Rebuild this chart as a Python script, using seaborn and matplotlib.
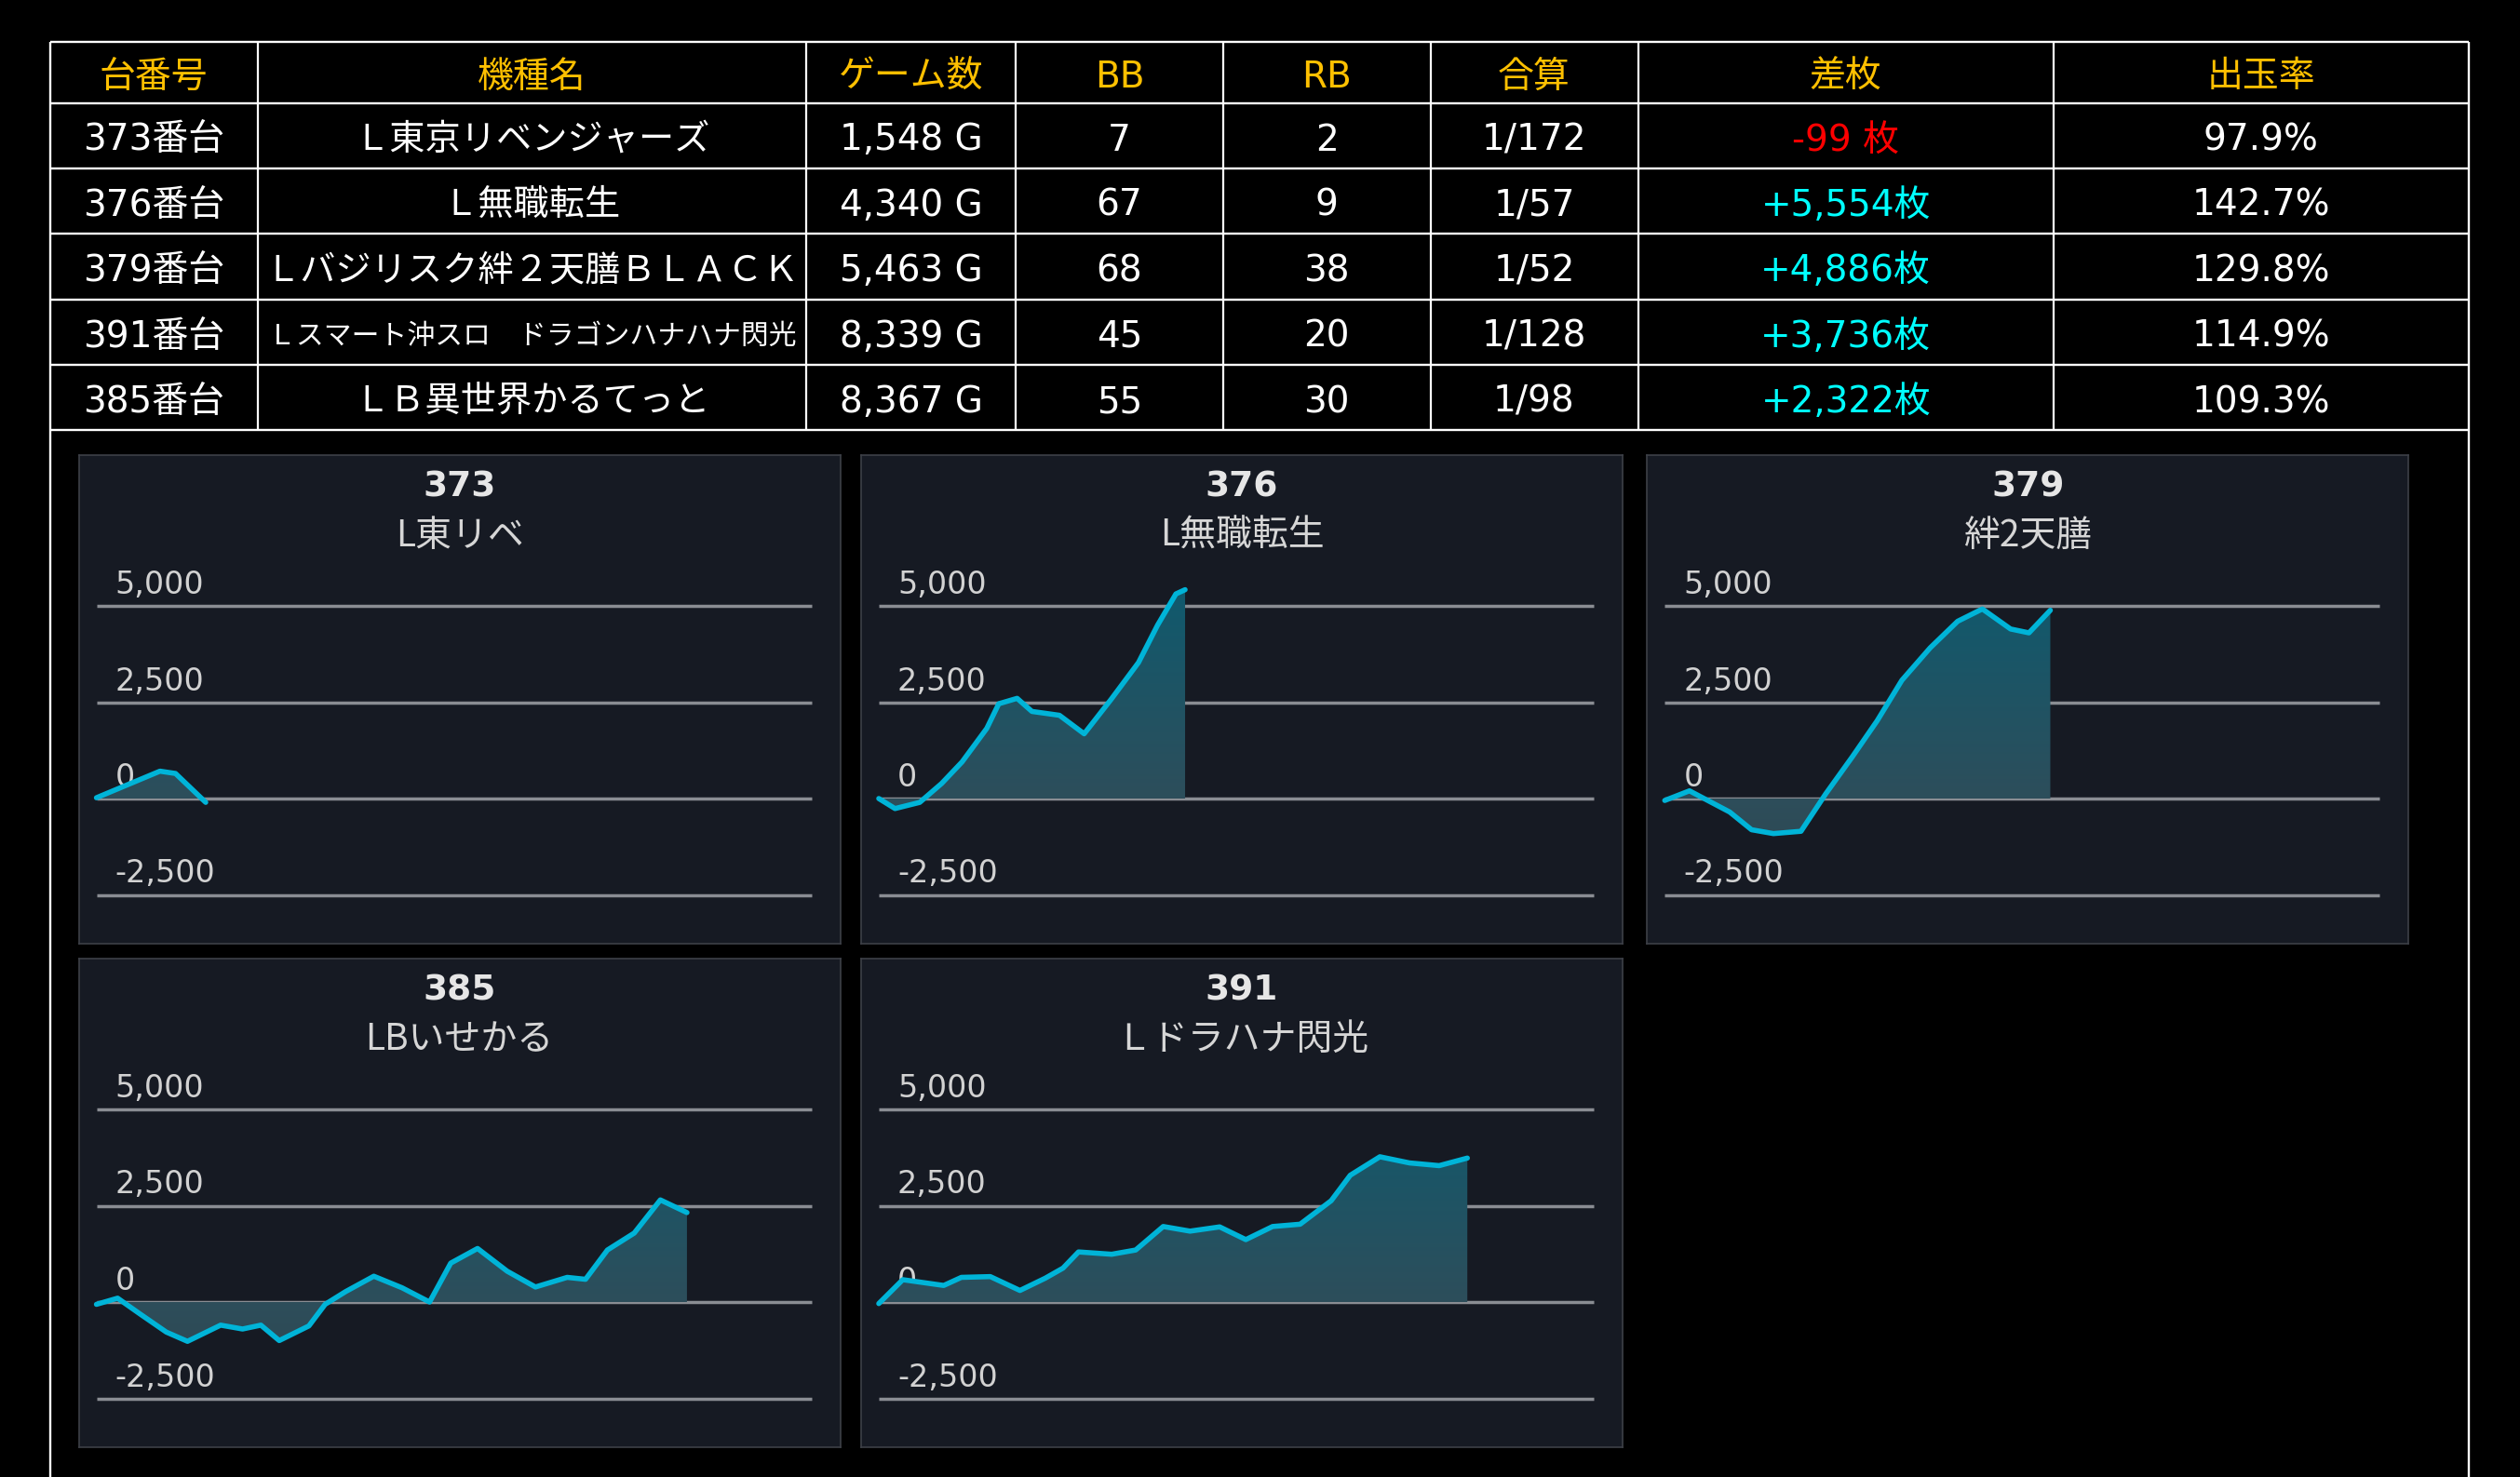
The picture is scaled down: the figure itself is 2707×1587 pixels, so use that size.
import numpy as np
import seaborn as sns
import matplotlib
matplotlib.use("Agg")
from matplotlib import pyplot as plt
from matplotlib.colors import LinearSegmentedColormap

# table data
dai_no = ["373番台", "376番台", "379番台", "391番台", "385番台"]
kishu = ["Ｌ東京リベンジャーズ", "Ｌ無職転生", "Ｌバジリスク絆２天膳ＢＬＡＣＫ",
         "Ｌスマート沖スロ　ドラゴンハナハナ閃光", "ＬＢ異世界かるてっと"]
games = [1548, 4340, 5463, 8339, 8367]
bb = [7, 67, 68, 45, 55]
rb = [2, 9, 38, 20, 30]
gassan = ["1/172", "1/57", "1/52", "1/128", "1/98"]
samai = [-99, 5554, 4886, 3736, 2322]
dedama = [97.9, 142.7, 129.8, 114.9, 109.3]
headers = ["台番号", "機種名", "ゲーム数", "BB", "RB", "合算", "差枚", "出玉率"]

# slump graph data (games, coins)
panel_no = ["373", "376", "379", "385", "391"]
panel_sub = ["L東リベ", "L無職転生", "絆2天膳", "LBいせかる", "Ｌドラハナ閃光"]
g373 = [0, 900, 1120, 1548]
v373 = [20, 710, 650, -99]
g376 = [0, 230, 580, 890, 1180, 1530, 1700, 1960, 2170, 2560, 2910, 3290, 3680, 3950, 4210, 4340]
v376 = [0, -260, -100, 390, 950, 1820, 2460, 2600, 2260, 2160, 1680, 2570, 3530, 4500, 5310, 5420]
g379 = [0, 350, 640, 920, 1230, 1540, 1930, 2280, 2660, 3010, 3360, 3760, 4150, 4500, 4900, 5160, 5463]
v379 = [-50, 200, -80, -350, -810, -910, -850, 120, 1090, 2020, 3070, 3910, 4600, 4920, 4400, 4300, 4886]
g385 = [0, 300, 610, 990, 1290, 1760, 2070, 2330, 2590, 3010, 3240, 3530, 3930, 4330, 4720,
        5020, 5400, 5820, 6220, 6670, 6930, 7240, 7620, 7990, 8367]
v385 = [-60, 100, -300, -780, -1020, -600, -700, -600, -1000, -620, -60, 270, 670, 370, 0,
        1010, 1390, 800, 390, 640, 590, 1350, 1790, 2650, 2322]
g391 = [0, 340, 920, 1170, 1580, 2000, 2360, 2610, 2830, 3300, 3640, 4030, 4410, 4830, 5200,
        5580, 5970, 6410, 6680, 7100, 7520, 7940, 8339]
v391 = [-40, 580, 430, 640, 660, 300, 620, 880, 1300, 1240, 1350, 1960, 1840, 1950, 1620,
        1960, 2020, 2630, 3290, 3770, 3610, 3540, 3736]
y_ticks = [-2500, 0, 2500, 5000]

sns.set_theme(style="dark")
plt.rcParams["font.family"] = ["DejaVu Sans", "Noto Sans CJK JP"]

W, H = 2707, 1587
fig = plt.figure(figsize=(W / 100, H / 100), dpi=100, facecolor="black")
bg = fig.add_axes([0, 0, 1, 1])
bg.set_xlim(0, W)
bg.set_ylim(H, 0)
bg.axis("off")

# table grid
col_x = [53.6, 277, 866, 1091, 1314, 1536.5, 1759.5, 2206, 2651.5]
row_y = [44.5, 110.5, 180.5, 251, 321.5, 392, 462]
bg.hlines(row_y, col_x[0], col_x[-1], color="white", lw=1.7)
bg.vlines(col_x[1:-1], row_y[0], row_y[-1], color="white", lw=1.6)
bg.vlines([col_x[0], col_x[-1]], row_y[0], H + 5, color="white", lw=1.7)


def cell(ci, ri, txt, color="white", size=28):
    cx = (col_x[ci] + col_x[ci + 1]) / 2
    cy = (row_y[ri] + row_y[ri + 1]) / 2 + 5
    bg.text(cx, cy, txt, ha="center", va="center", color=color, fontsize=size)


for i, h in enumerate(headers):
    cell(i, 0, h, color="#ffc000")

for r in range(5):
    cell(0, r + 1, dai_no[r])
    cell(1, r + 1, kishu[r], size=21.5 if len(kishu[r]) > 16 else 27.5)
    cell(2, r + 1, f"{games[r]:,} G")
    cell(3, r + 1, str(bb[r]))
    cell(4, r + 1, str(rb[r]))
    cell(5, r + 1, gassan[r])
    if samai[r] < 0:
        cell(6, r + 1, f"{samai[r]:,} 枚", color="#ff0000")
    else:
        cell(6, r + 1, f"+{samai[r]:,}枚", color="#00ffff")
    cell(7, r + 1, f"{dedama[r]}%")

# slump panels
PW, PH = 818, 525
XMAX = 10130
gpp = XMAX / 768          # games per pixel
vpp = 2500 / 103.5        # coins per pixel
fill_cmap = LinearSegmentedColormap.from_list(
    "slump", [(0, "#30454f"), (0.31, "#2d4e5b"), (1, "#0f5a6e")])


def draw_panel(left, top, no, sub, g, v):
    ax = fig.add_axes([left / W, 1 - (top + PH) / H, PW / W, PH / H])
    ax.set_facecolor("#161a23")
    for s in ax.spines.values():
        s.set_visible(True)
        s.set_color("#3d4047")
        s.set_linewidth(1.2)
    ax.hlines(y_ticks, 0, XMAX, color="#8a8d93", lw=2.5, zorder=1)
    for t in y_ticks:
        ax.text(20 * gpp, t + 13 * vpp, f"{t:,}", color="#d2d2d2", fontsize=24,
                ha="left", va="baseline", zorder=2)
    poly = ax.fill_between(g, v, 0, color="none", lw=0)
    grad = np.linspace(0, 1, 256).reshape(-1, 1)
    im = ax.imshow(grad, cmap=fill_cmap, extent=[0, XMAX, -2500, 5600],
                   origin="lower", aspect="auto", zorder=3)
    im.set_clip_path(poly.get_paths()[0], transform=ax.transData)
    sns.lineplot(x=g, y=v, ax=ax, color="#00b4d8", linewidth=4, zorder=4)
    ax.set_xlim(-19 * gpp, (PW - 19) * gpp)
    ax.set_ylim(-(PH - 369) * vpp, 369 * vpp)
    ax.set_xticks([])
    ax.set_yticks([])
    ax.set_xlabel("")
    ax.set_ylabel("")
    ax.text(0.5, 1 - 0.066, no, transform=ax.transAxes, ha="center", va="center",
            fontsize=27, fontweight="bold", color="#e6e6e6")
    ax.text(0.5, 1 - 0.166, sub, transform=ax.transAxes, ha="center", va="center",
            fontsize=28, color="#d6d6d6", family=["Noto Sans CJK JP", "DejaVu Sans"])


lefts = [84.6, 925, 1769.3]
tops = [489, 1030]
series = [(g373, v373), (g376, v376), (g379, v379), (g385, v385), (g391, v391)]
for i, (g, v) in enumerate(series):
    draw_panel(lefts[i % 3], tops[i // 3], panel_no[i], panel_sub[i], g, v)

fig.savefig("out.png", dpi=100, facecolor="black")
